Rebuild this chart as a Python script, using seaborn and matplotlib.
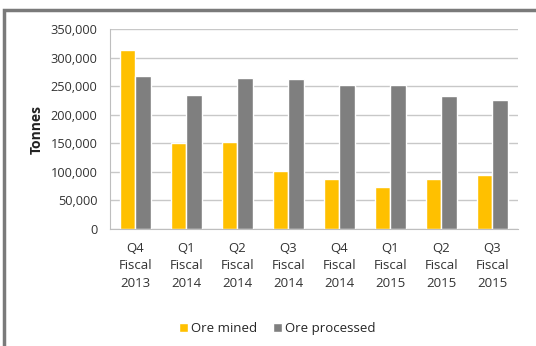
import pandas as pd
import matplotlib.pyplot as plt
import seaborn as sns
from matplotlib.patches import Rectangle
from matplotlib.ticker import FuncFormatter, MultipleLocator

# 분기별 광석 채굴/처리량 (톤)
quarters = ['Q4\nFiscal\n2013', 'Q1\nFiscal\n2014', 'Q2\nFiscal\n2014', 'Q3\nFiscal\n2014',
            'Q4\nFiscal\n2014', 'Q1\nFiscal\n2015', 'Q2\nFiscal\n2015', 'Q3\nFiscal\n2015']
ore_mined = [313500, 149800, 151500, 100800, 87700, 72800, 87700, 94700]
ore_processed = [267500, 234000, 264700, 263200, 252500, 252500, 232000, 225000]
series_names = ['Ore mined', 'Ore processed']
colors = ['#FFC000', '#7F7F7F']

df = pd.DataFrame({'quarter': quarters * 2,
                   'tonnes': ore_mined + ore_processed,
                   'series': [series_names[0]] * 8 + [series_names[1]] * 8})

sns.set_style('white')
plt.rcParams['font.family'] = ['Open Sans', 'DejaVu Sans']

fig = plt.figure(figsize=(5.36, 3.46), dpi=100)
ax = fig.add_axes([0.205, 0.338, 0.761, 0.578])

sns.barplot(data=df, x='quarter', y='tonnes', hue='series', palette=colors,
            width=0.6, gap=0, saturation=1, ax=ax)

ax.set_ylim(0, 350000)
ax.set_xlim(-0.5, 7.5)
ax.yaxis.set_major_locator(MultipleLocator(50000))
ax.yaxis.set_major_formatter(FuncFormatter(lambda v, p: '{:,.0f}'.format(v)))
ax.grid(axis='y', color='#C8C8C8', linewidth=1)
ax.set_axisbelow(True)

for s in ['top', 'right']:
    ax.spines[s].set_visible(False)
ax.spines['left'].set_color('#BEBEBE')
ax.spines['bottom'].set_color('#BEBEBE')

ax.tick_params(axis='y', length=5, color='#BEBEBE', labelsize=9.2, labelcolor='#333333', pad=4)
ax.tick_params(axis='x', length=0, labelsize=9.5, labelcolor='#333333', pad=9)
for t in ax.get_xticklabels():
    t.set_linespacing(1.45)
ax.set_xticks([i + 0.5 for i in range(-1, 8)], minor=True)
ax.tick_params(axis='x', which='minor', length=5, color='#BEBEBE')

ax.set_xlabel('')
ax.set_ylabel('Tonnes', fontsize=10, fontweight='bold', color='#222222', labelpad=5)

ax.legend(loc='lower center', bbox_to_anchor=(0.41, -0.555), ncol=2, frameon=False,
          fontsize=9.5, handlelength=0.7, handleheight=0.7, handletextpad=0.2,
          columnspacing=1.2, borderaxespad=0)

# 차트 테두리
fig.patches.append(Rectangle((0.008, -0.05), 1.1, 1.02, transform=fig.transFigure,
                             fill=False, edgecolor='#7A7A7A', linewidth=2.5))

fig.savefig('out.png', dpi=100)
